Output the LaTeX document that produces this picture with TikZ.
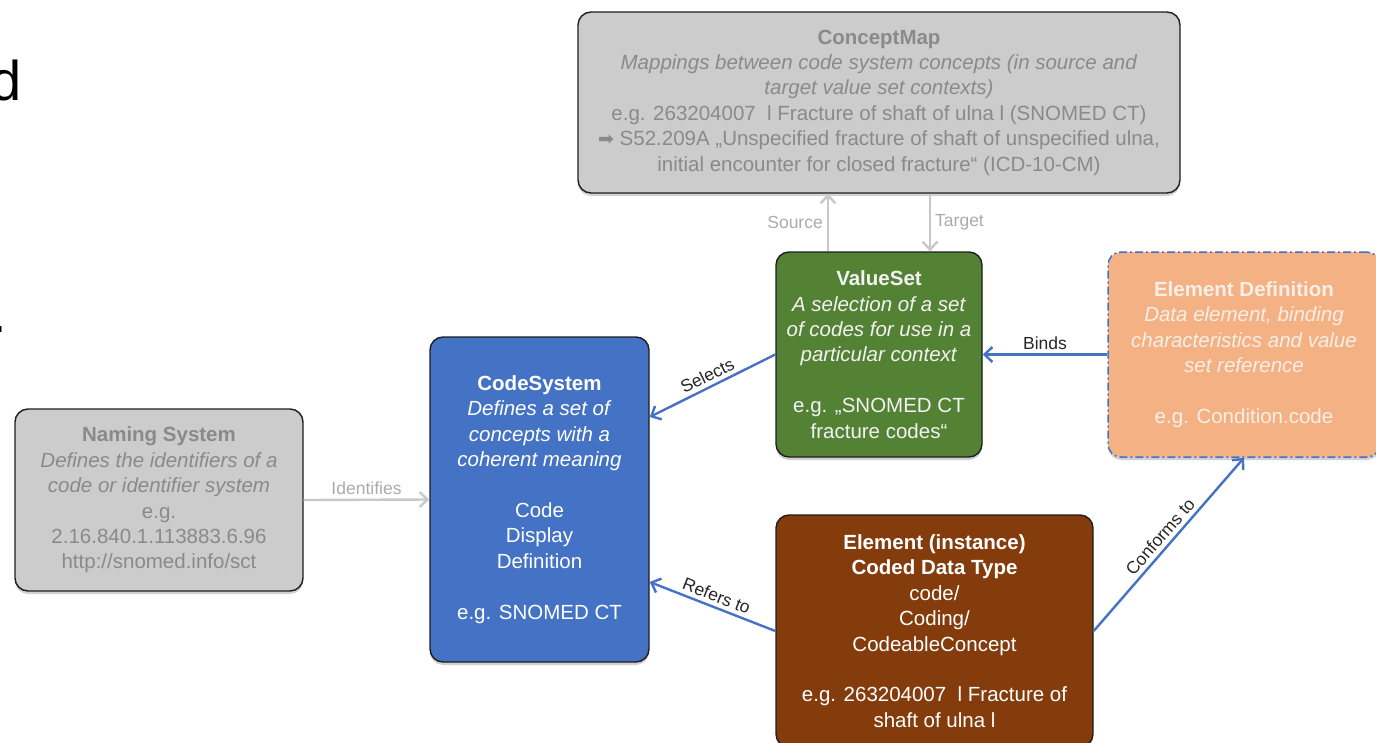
\documentclass[tikz,border=0pt]{standalone}
\usepackage{fontspec}
\setmainfont{Liberation Sans}
\newfontfamily\dejavu{DejaVu Sans}
\usetikzlibrary{arrows.meta,shadows}
\definecolor{boxline}{HTML}{1E1E1E}
\definecolor{cgray}{HTML}{CCCCCC}
\definecolor{tgray}{HTML}{8A8A8A}
\definecolor{lgray}{HTML}{ABABAB}
\definecolor{agray}{HTML}{C8C8C8}
\definecolor{cblue}{HTML}{4472C4}
\definecolor{cgreen}{HTML}{548235}
\definecolor{cbrown}{HTML}{843C0C}
\definecolor{corange}{HTML}{F4B183}
\definecolor{otext}{HTML}{F7EFE8}
\definecolor{ltext}{HTML}{262626}
\begin{document}
\begin{tikzpicture}[x=1pt,y=-1pt,
  font=\fontsize{20.5}{25.4}\selectfont,
  box/.style={rounded corners=13pt, draw=boxline, line width=1.4pt, align=center, inner sep=0pt,
    drop shadow={shadow xshift=0pt, shadow yshift=-3pt, opacity=0.18, fill=black}},
  lbl/.style={font=\fontsize{17.5}{20}\selectfont, text=ltext, inner sep=4pt},
  glbl/.style={font=\fontsize{17.5}{20}\selectfont, text=lgray, inner sep=4pt},
  barrow/.style={draw=cblue, line width=2.4pt, -{Straight Barb[length=8pt,width=15pt]}},
  garrow/.style={draw=agray, line width=2.4pt, -{Straight Barb[length=8pt,width=15pt]}},
  frag/.style={font=\fontsize{56}{56}\selectfont, inner sep=0pt, text=black}
]
\useasboundingbox (0,0) rectangle (1376,742);

% fragments of cropped slide text
\node[frag, anchor=base east] (fragd) at (22,100) {d};
\node[frag, anchor=base west] (fragdot) at (-9,332) {.};

% ConceptMap
\node[box, fill=cgray, text=tgray, minimum width=602pt, minimum height=181pt] (cm) at (879,102.5)
 {\textbf{ConceptMap}\\
  \textit{Mappings between code system concepts (in source and}\\
  \textit{target value set contexts)}\\
  e.g. 263204007\ \ l Fracture of shaft of ulna l (SNOMED CT)\\
  {\dejavu\fontsize{19}{19}\selectfont ➡} S52.209A „Unspecified fracture of shaft of unspecified ulna,\\
  initial encounter for closed fracture“ (ICD-10-CM)};

% ValueSet
\node[box, fill=cgreen, text=white!95!black, minimum width=206pt, minimum height=205pt] (vs) at (879,354.5)
 {\textbf{ValueSet}\\
  \textit{A selection of a set}\\
  \textit{of codes for use in a}\\
  \textit{particular context}\\[25.4pt]
  e.g. „SNOMED CT\\
  fracture codes“};

% Element Definition
\node[box, draw=cblue, line width=1.5pt, dash pattern=on 8pt off 3pt on 2pt off 3pt,
      fill=corange, text=otext, minimum width=272pt, minimum height=205pt] (ed) at (1244,354.5)
 {\textbf{Element Definition}\\
  \textit{Data element, binding}\\
  \textit{characteristics and value}\\
  \textit{set reference}\\[25.4pt]
  e.g. Condition.code};

% CodeSystem
\node[box, fill=cblue, text=white, minimum width=219pt, minimum height=325pt] (cs) at (539.5,499.5)
 {\textbf{CodeSystem}\\
  \textit{Defines a set of}\\
  \textit{concepts with a}\\
  \textit{coherent meaning}\\[25.4pt]
  Code\\
  Display\\
  Definition\\[25.4pt]
  e.g. SNOMED CT};

% Naming System
\node[box, fill=cgray, text=tgray, minimum width=288pt, minimum height=182pt] (ns) at (159,500)
 {\textbf{Naming System}\\
  \textit{Defines the identifiers of a}\\
  \textit{code or identifier system}\\
  e.g.\\
  2.16.840.1.113883.6.96\\
  http://snomed.info/sct};

% Element (instance)
\node[box, fill=cbrown, text=white, minimum width=317pt, minimum height=232pt] (eb) at (934.5,631)
 {\textbf{Element (instance)}\\
  \textbf{Coded Data Type}\\
  code/\\
  Coding/\\
  CodeableConcept\\[25.4pt]
  e.g. 263204007\ \ l Fracture of\\
  shaft of ulna l};

% connectors
\draw[garrow] ([xshift=-51pt]vs.north) -- node[glbl, left] (lsrc) {Source} ([xshift=-51pt]cm.south);
\draw[garrow] ([xshift=51pt]cm.south) -- node[glbl, right] (ltgt) {Target} ([xshift=51pt]vs.north);
\draw[garrow] (ns.east) -- node[glbl, above] (lid) {Identifies} (cs.west);
\draw[barrow] (vs.west) -- node[lbl, sloped, above] (lsel) {Selects} ([yshift=82.5pt]cs.east);
\draw[barrow] (ed.west) -- node[lbl, above] (lbind) {Binds} (vs.east);
\draw[barrow] (eb.west) -- node[lbl, sloped, above] (lref) {Refers to} ([yshift=-82.5pt]cs.east);
\draw[barrow] (eb.east) -- node[lbl, sloped, above] (lconf) {Conforms to} (ed.south);
\end{tikzpicture}
\end{document}
